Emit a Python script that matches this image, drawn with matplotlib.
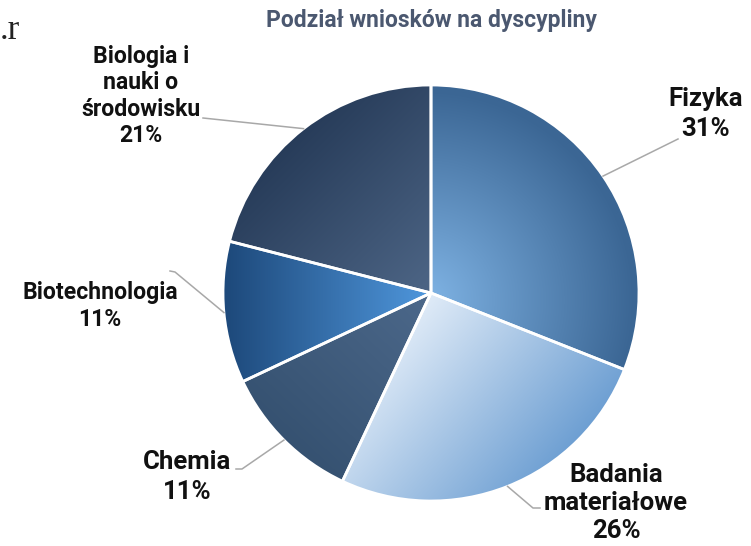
import numpy as np
import matplotlib
matplotlib.use("Agg")
import matplotlib.pyplot as plt
from matplotlib.colors import to_rgb

# dane
kategorie = ["Fizyka", "Badania\nmateriałowe", "Chemia", "Biotechnologia", "Biologia i\nnauki o\nśrodowisku"]
udzialy = [31, 26, 11, 11, 21]

W, H = 751, 546
CX, CY, R = 431, 293, 208     # środek i promień koła w pikselach (y od góry)


def py(y):
    # zamiana y "od góry" na współrzędne osi
    return H - y


# gradienty: (kolor_start, kolor_koniec, punkt_start, punkt_koniec, radialny)
gradienty = [
    ("#80b4e5", "#3b6694", (425, 300), (425, 90), True),
    ("#eaf2fb", "#5a92cc", (400, 300), (600, 470), False),
    ("#4b6789", "#334f6e", (420, 300), (270, 460), False),
    ("#1e4a7c", "#4e95da", (228, 300), (425, 300), False),
    ("#1f3350", "#4b6383", (250, 115), (420, 285), False),
]

# położenie etykiet (środek bloku) i punkty łamania linii
etykiety_xy = [(706, 114), (616, 503), (187, 477), (100, 306), (141, 96)]
etykiety_fs = [18.5, 18.5, 18.5, 16.6, 16.6]
etykiety_ls = [1.27, 1.22, 1.27, 1.2, 1.18]
linie_pkt = [
    [(678, 139)],
    [(533, 508), (540, 508)],
    [(242, 469), (236, 469)],
    [(175, 272), (170, 271)],
    [(203, 118)],
]

plt.rcParams['font.family'] = ['Roboto', 'DejaVu Sans']

fig = plt.figure(figsize=(W / 100, H / 100), dpi=100)
ax = fig.add_axes([0, 0, 1, 1])

wedges, _ = ax.pie(udzialy, center=(CX, py(CY)), radius=R, startangle=90,
                   counterclock=False, frame=True,
                   wedgeprops=dict(facecolor='none', edgecolor='white', linewidth=2))

# wypełnienie gradientem przyciętym do klinów
xs = np.linspace(CX - R - 2, CX + R + 2, 300)
ys = np.linspace(CY - R - 2, CY + R + 2, 300)
X, Y = np.meshgrid(xs, ys)
for w, (c0, c1, p0, p1, radial) in zip(wedges, gradienty):
    c0, c1 = np.array(to_rgb(c0)), np.array(to_rgb(c1))
    d = np.array(p1, float) - np.array(p0, float)
    if radial:
        t = np.hypot(X - p0[0], Y - p0[1]) / np.hypot(*d)
    else:
        t = ((X - p0[0]) * d[0] + (Y - p0[1]) * d[1]) / (d @ d)
    t = np.clip(t, 0, 1)[..., None]
    img = c0 * (1 - t) + c1 * t
    im = ax.imshow(img, extent=(xs[0], xs[-1], py(ys[-1]), py(ys[0])),
                   origin='upper', zorder=1, interpolation='bilinear')
    im.set_clip_path(w)
    w.set_zorder(2)

ax.set_xlim(0, W)
ax.set_ylim(0, H)
ax.set_aspect('equal')
ax.axis('off')

# etykiety i linie odniesienia
theta = 90
for i, (lab, v) in enumerate(zip(kategorie, udzialy)):
    mid = np.deg2rad(theta - v / 100 * 360 / 2)
    theta -= v / 100 * 360
    ex, ey = CX + R * np.cos(mid), CY - R * np.sin(mid)
    pts = [(ex, ey)] + linie_pkt[i]
    ax.plot([p[0] for p in pts], [py(p[1]) for p in pts], color='#a8a8a8', lw=1.1, zorder=3)
    tx, ty = etykiety_xy[i]
    ax.text(tx, py(ty), f"{lab}\n{v}%", ha='center', va='center', fontsize=etykiety_fs[i],
            fontweight='bold', color='#111111', linespacing=etykiety_ls[i], zorder=4)

ax.text(431, py(20), "Podział wniosków na dyscypliny", ha='center', va='center',
        fontsize=16.5, fontweight='bold', color='#4b5870')
ax.text(0, py(39), ".r", ha='left', va='baseline', fontsize=25,
        family='Liberation Serif', color='#222222')

fig.savefig("out.png", dpi=100)
